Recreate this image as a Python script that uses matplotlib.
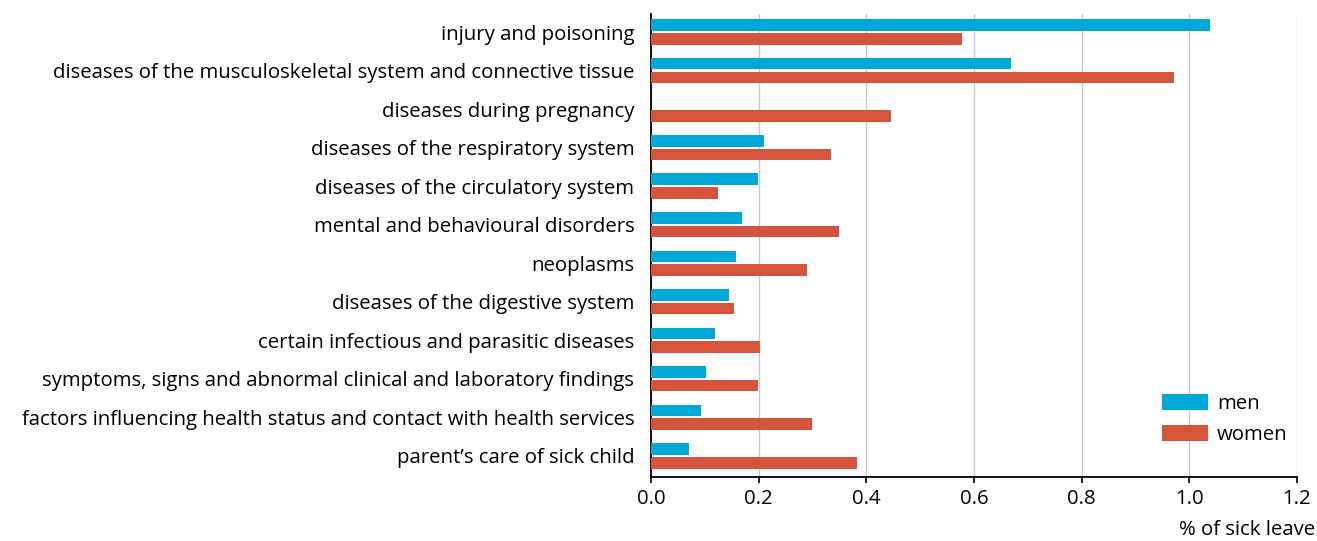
import numpy as np
import matplotlib
matplotlib.use("Agg")
import matplotlib.pyplot as plt

plt.rcParams['font.family'] = ['Open Sans', 'DejaVu Sans']

# categories, top to bottom
categories = [
    "injury and poisoning",
    "diseases of the musculoskeletal system and connective tissue",
    "diseases during pregnancy",
    "diseases of the respiratory system",
    "diseases of the circulatory system",
    "mental and behavioural disorders",
    "neoplasms",
    "diseases of the digestive system",
    "certain infectious and parasitic diseases",
    "symptoms, signs and abnormal clinical and laboratory findings",
    "factors influencing health status and contact with health services",
    "parent\u2019s care of sick child",
]
men = [1.038, 0.669, 0.0, 0.210, 0.198, 0.169, 0.158, 0.145, 0.119, 0.102, 0.092, 0.070]
women = [0.578, 0.972, 0.446, 0.334, 0.124, 0.349, 0.290, 0.154, 0.203, 0.199, 0.299, 0.383]
xticks = [0.0, 0.2, 0.4, 0.6, 0.8, 1.0, 1.2]

BLUE = "#00A8D8"
RED = "#D6533C"
FS = 14.7

fig = plt.figure(figsize=(13.17, 5.41), dpi=100)
ax = fig.add_axes([651 / 1317, 64 / 541, 646 / 1317, 463 / 541])

y = np.arange(len(categories))
h = 0.30
ax.barh(y - 0.18, men, height=h, color=BLUE, label="men", zorder=3)
ax.barh(y + 0.18, women, height=h, color=RED, label="women", zorder=3)

ax.set_ylim(11.55, -0.47)
ax.set_xlim(0, 1.2)
ax.set_yticks(y)
ax.set_yticklabels(categories, fontsize=FS)
ax.set_xticks(xticks)
ax.set_xticklabels([f"{t:.1f}" for t in xticks], fontsize=FS)
ax.tick_params(axis='y', length=0, pad=12)
ax.tick_params(axis='x', length=4, width=1.2, direction='out', pad=5)

ax.grid(axis='x', color="#c8c8c8", linewidth=1.0, zorder=0)
for s in ['top', 'right']:
    ax.spines[s].set_visible(False)
ax.spines['left'].set_linewidth(1.3)
ax.spines['bottom'].set_linewidth(1.3)

fig.text(1315 / 1317, 1 - 530 / 541, "% of sick leave", fontsize=FS,
         ha='right', va='center')

ax.legend(loc='upper left', bbox_to_anchor=(1162 / 1317, 1 - 394 / 541),
          bbox_transform=fig.transFigure, frameon=False, fontsize=FS,
          handlelength=2.25, handleheight=0.8, handletextpad=0.45,
          labelspacing=0.55, borderpad=0, borderaxespad=0)

fig.savefig("out.png", dpi=100)
